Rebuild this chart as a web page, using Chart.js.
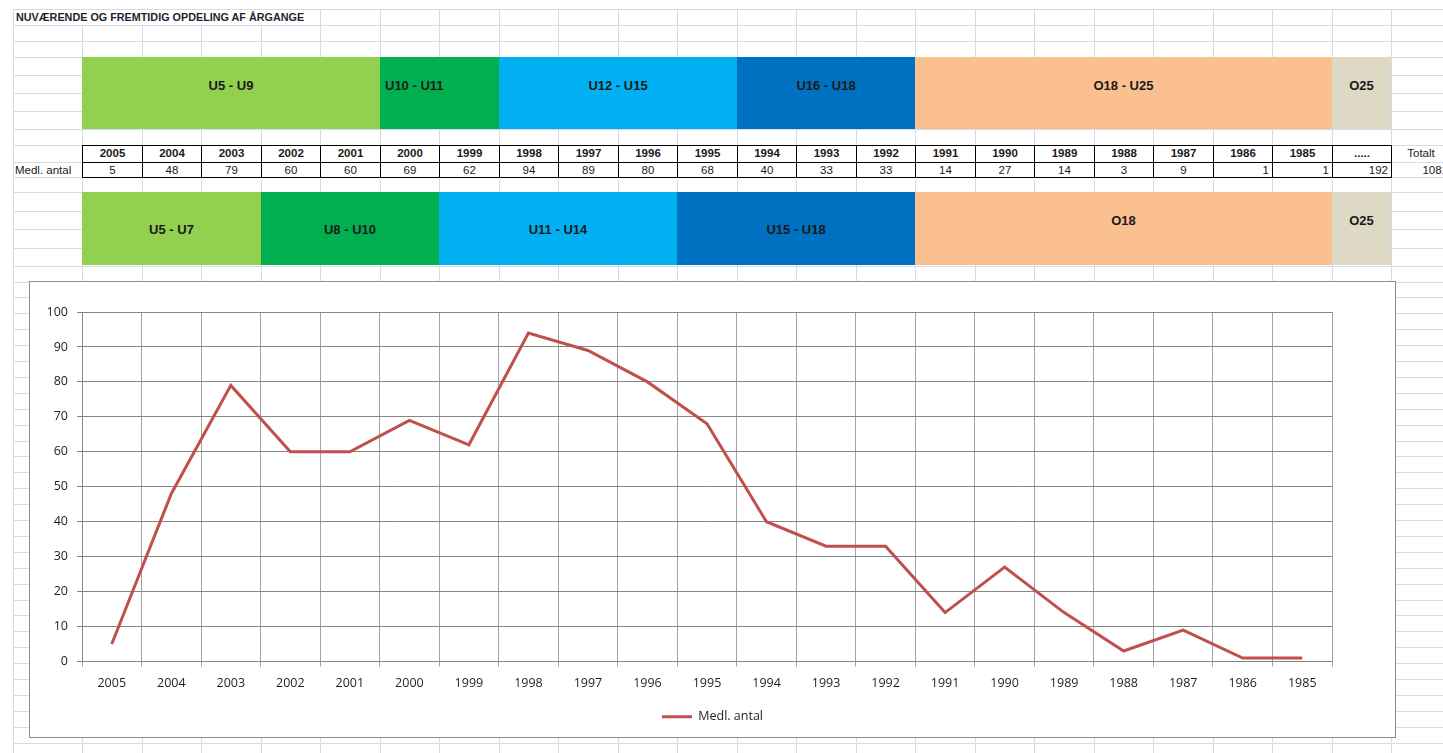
<!DOCTYPE html>
<html>
<head>
<meta charset="utf-8">
<script src="https://cdn.jsdelivr.net/npm/chart.js@4.4.1/dist/chart.umd.min.js"></script>
<style>
  html, body { margin: 0; padding: 0; background: #fff; width: 1443px; height: 753px; overflow: hidden; }
  #sheet { position: absolute; left: 0; top: 0; width: 1443px; height: 753px; overflow: hidden;
           font-family: "Liberation Sans", Arial, sans-serif; color: #1a1a1a; }
  .gl { position: absolute; background: #d5dbe7; }
  .band { position: absolute; font-weight: bold; font-size: 13px; }
  .band span { position: absolute; left: 0; right: 0; text-align: center; transform: translateY(-50%); white-space: nowrap; }
  .cell { position: absolute; box-sizing: border-box; font-size: 11.5px; line-height: 14px; white-space: nowrap; padding: 0 3px; }
  #chartBox { position: absolute; left: 29px; top: 281px; width: 1367px; height: 457px; background: #fff; }
  #chartBox::after { content: ''; position: absolute; left: 0; top: 0; right: 0; bottom: 0;
                     border: 1.5px solid #8c8c8c; pointer-events: none; }
</style>
</head>
<body>
<div id="sheet"></div>
<div id="chartBox"><canvas id="chart"></canvas></div>
<script>
  // Data
  const sheetTitle = "NUVÆRENDE OG FREMTIDIG OPDELING AF ÅRGANGE";
  const years = ["2005", "2004", "2003", "2002", "2001", "2000", "1999", "1998", "1997", "1996", "1995",
                 "1994", "1993", "1992", "1991", "1990", "1989", "1988", "1987", "1986", "1985"];
  const members = [5, 48, 79, 60, 60, 69, 62, 94, 89, 80, 68, 40, 33, 33, 14, 27, 14, 3, 9, 1, 1];
  const restLabel = ".....";
  const restMembers = 192;
  const rowLabel = "Medl. antal";
  const totalLabel = "Totalt";

  // current groups (top) and future groups (bottom), spans in number of year columns
  const currentGroups = ["U5 - U9", "U10 - U11", "U12 - U15", "U16 - U18", "O18 - U25", "O25"];
  const currentSpans = [5, 2, 4, 3, 7, 1];
  const futureGroups = ["U5 - U7", "U8 - U10", "U11 - U14", "U15 - U18", "O18", "O25"];
  const futureSpans = [3, 3, 4, 4, 7, 1];
  const groupColors = ["#92D050", "#00B050", "#00B0F0", "#0070C0", "#FAC090", "#DDD9C4"];

  // Spreadsheet layout
  const sheet = document.getElementById("sheet");
  const colLeft = i => (i === 0 ? 13.3 : 82.3 + (i - 1) * 59.5);
  const rowEdges = [8.7, 25, 41, 57, 75, 93, 111, 129.3, 145.3, 162, 177.3, 192.3, 211, 229, 247.5, 265.7];
  while (rowEdges[rowEdges.length - 1] < 760) rowEdges.push(rowEdges[rowEdges.length - 1] + 15.9);

  const add = (cls, css, html) => {
    let d = document.createElement("div");
    d.className = cls;
    Object.assign(d.style, css);
    if (html !== undefined) d.innerHTML = html;
    sheet.appendChild(d);
    return d;
  };

  // grid lines
  rowEdges.forEach(y => add("gl", { left: "13px", top: Math.round(y) + "px", width: "1440px", height: "1px" }));
  for (let i = 0; i < 25; i++) {
    add("gl", { left: Math.round(colLeft(i)) + "px", top: "9px", width: "1px", height: "760px" });
  }

  // title (overflows the neighbouring cells)
  add("cell", { left: "14px", top: "10px", width: "306px", height: "15px", background: "#fff",
                fontWeight: "bold", fontSize: "10.8px", color: "#1f1f2f", padding: "0 2px", lineHeight: "15px" }, sheetTitle);

  // bands
  const drawBands = (labels, spans, top, bottom, textY) => {
    let col = 1;
    labels.forEach((lab, k) => {
      let l = colLeft(col), r = colLeft(col + spans[k]);
      let b = add("band", { left: Math.round(l) + "px", top: Math.round(top) + "px",
                            width: (Math.round(r) - Math.round(l)) + "px", height: Math.round(bottom - top) + "px",
                            background: groupColors[k] });
      let s = document.createElement("span");
      s.textContent = lab;
      s.style.top = textY(k) + "px";
      if (lab === "U10 - U11") { s.style.textAlign = "left"; s.style.left = "5px"; }
      b.appendChild(s);
      col += spans[k];
    });
  };
  drawBands(currentGroups, currentSpans, 57, 129.3, k => 28);
  drawBands(futureGroups, futureSpans, 192.3, 265.7, k => (k >= 4 ? 28 : 37));

  // table
  const headers = years.concat([restLabel]);
  const values = members.concat([restMembers]);
  headers.forEach((h, k) => {
    let l = Math.round(colLeft(k + 1)), r = Math.round(colLeft(k + 2));
    add("cell", { left: l + "px", top: "145px", width: (r - l + 1) + "px", height: "18px",
                  border: "1px solid #000", fontWeight: "bold", textAlign: "center", lineHeight: "15px" }, h);
    add("cell", { left: l + "px", top: "162px", width: (r - l + 1) + "px", height: "16px",
                  border: "1px solid #000", textAlign: k >= 19 ? "right" : "center", lineHeight: "14px" }, String(values[k]));
  });
  add("cell", { left: "14px", top: "163px", width: "68px", height: "14px", padding: "0 1px" }, rowLabel);
  let tl = Math.round(colLeft(23)), tr = Math.round(colLeft(24));
  add("cell", { left: tl + "px", top: "146px", width: (tr - tl) + "px", height: "16px", textAlign: "center", lineHeight: "15px" }, totalLabel);
  add("cell", { left: tl + "px", top: "163px", width: (tr - tl) + "px", height: "14px", textAlign: "right" },
      String(members.reduce((a, b) => a + b, 0) + restMembers));

  // Chart
  Chart.defaults.font.family = '"Open Sans", "Noto Sans", sans-serif';
  Chart.defaults.font.size = 12.5;
  Chart.defaults.color = "#1f1f1f";

  let context = document.getElementById("chart").getContext("2d");
  let chart = new Chart(context, {
    type: "line",
    data: {
      labels: years,
      datasets: [
        {
          label: rowLabel,
          data: members,
          borderColor: "#C0504D",
          backgroundColor: "#C0504D",
          borderWidth: 3,
          pointRadius: 0,
          tension: 0,
        },
      ],
    },
    options: {
      responsive: true,
      maintainAspectRatio: false,
      animation: false,
      layout: { padding: { top: 31, right: 0, bottom: 5, left: 0 } },
      plugins: {
        legend: {
          position: "bottom",
          labels: { usePointStyle: true, pointStyle: "line", pointStyleWidth: 30, padding: 10 },
        },
        tooltip: { enabled: false },
      },
      scales: {
        x: {
          offset: true,
          grid: { offset: true, color: "#a3a3a3", tickLength: 5 },
          border: { color: "#868686" },
          ticks: { padding: 9, maxRotation: 0 },
          afterFit: s => { s.height = 39; },
        },
        y: {
          min: 0,
          max: 100,
          ticks: { stepSize: 10, padding: 9 },
          grid: { color: "#868686", tickLength: 5 },
          border: { color: "#868686" },
          afterFit: s => { s.width = 53; },
        },
        // empty axis that keeps the right margin of the plot area
        yRight: {
          position: "right",
          grid: { display: false, drawTicks: false },
          border: { display: false },
          ticks: { display: false },
          afterFit: s => { s.width = 64; },
        },
      },
    },
  });
</script>
</body>
</html>
